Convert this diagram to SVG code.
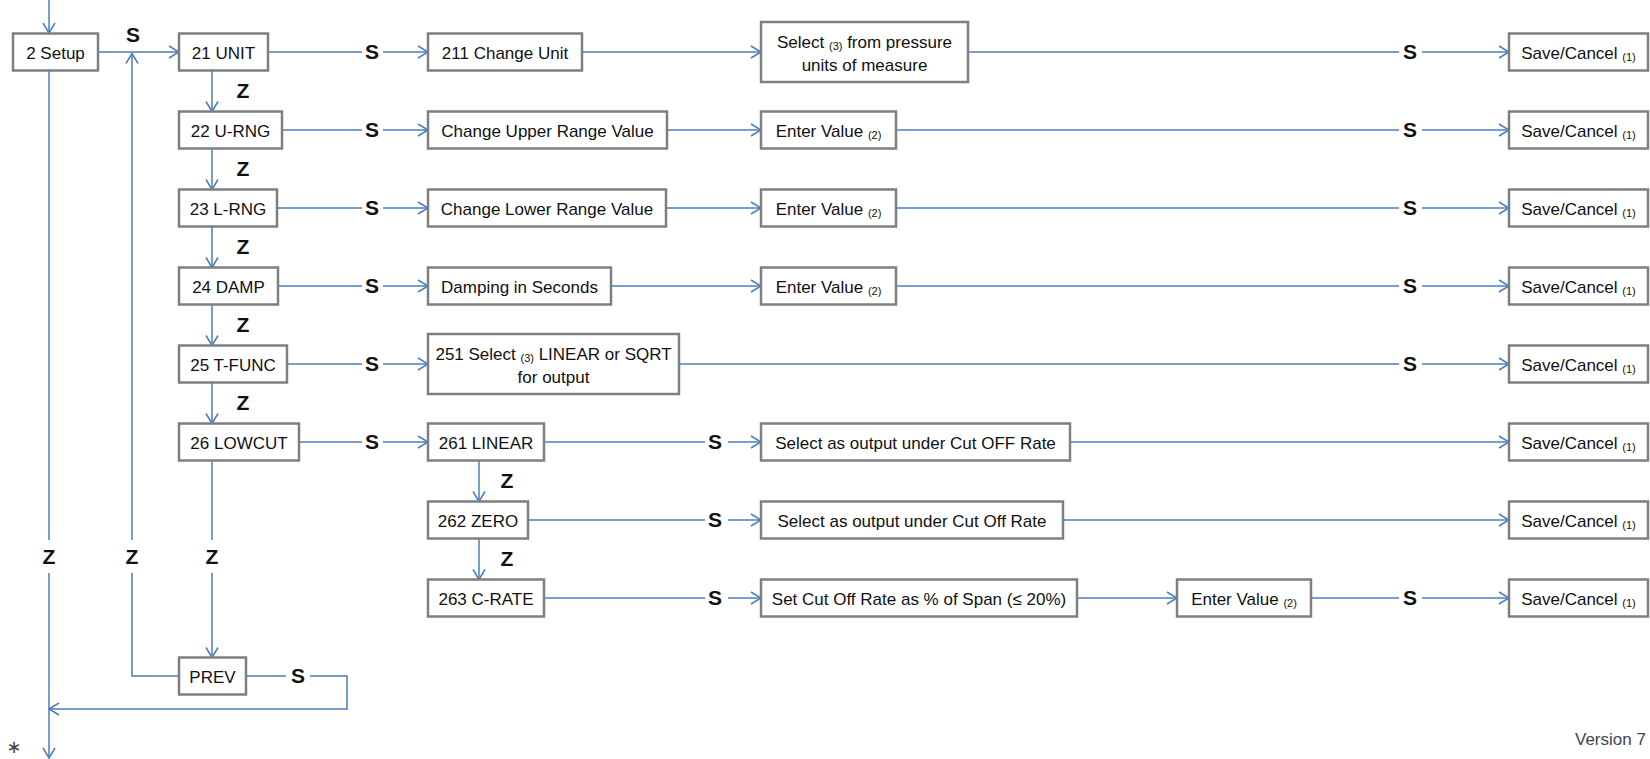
<svg xmlns="http://www.w3.org/2000/svg" width="1650" height="759" viewBox="0 0 1650 759">
<style>
.box{fill:#fff;stroke:#7f7f7f;stroke-width:2.5}
.t{font-family:"Liberation Sans",Arial,sans-serif;font-size:17px;fill:#111;text-anchor:middle}
.sub{font-size:11px}
.lbl{font-family:"Liberation Sans",Arial,sans-serif;font-weight:bold;font-size:21px;fill:#111;text-anchor:middle}
.c{fill:none;stroke:#4a7ebb;stroke-width:1.5}
.ver{font-family:"Liberation Sans",Arial,sans-serif;font-size:17px;fill:#444}
.ast{font-family:"DejaVu Sans",sans-serif;font-size:18px;fill:#444;text-anchor:middle}
</style>
<defs>
<marker id="a" viewBox="-11 -7 12 14" refX="0" refY="0" markerWidth="12" markerHeight="14" markerUnits="userSpaceOnUse" orient="auto">
<path d="M-10,-6 L0,0 L-10,6" fill="none" stroke="#4a7ebb" stroke-width="1.5"/>
</marker>
</defs>
<rect width="1650" height="759" fill="#fff"/>
<g id="connectors">
<path class="c" d="M49,0 V33" marker-end="url(#a)"/>
<path class="c" d="M98,52 H179" marker-end="url(#a)"/>
<path class="c" d="M268,52 H362"/><path class="c" d="M383,52 H428" marker-end="url(#a)"/>
<path class="c" d="M582,52 H761" marker-end="url(#a)"/>
<path class="c" d="M968,52 H1399"/><path class="c" d="M1422,52 H1509" marker-end="url(#a)"/>
<path class="c" d="M282,130 H362"/><path class="c" d="M383,130 H428" marker-end="url(#a)"/>
<path class="c" d="M667,130 H761" marker-end="url(#a)"/>
<path class="c" d="M896,130 H1399"/><path class="c" d="M1422,130 H1509" marker-end="url(#a)"/>
<path class="c" d="M277,208 H362"/><path class="c" d="M383,208 H428" marker-end="url(#a)"/>
<path class="c" d="M666,208 H761" marker-end="url(#a)"/>
<path class="c" d="M896,208 H1399"/><path class="c" d="M1422,208 H1509" marker-end="url(#a)"/>
<path class="c" d="M278,286 H362"/><path class="c" d="M383,286 H428" marker-end="url(#a)"/>
<path class="c" d="M611,286 H761" marker-end="url(#a)"/>
<path class="c" d="M896,286 H1399"/><path class="c" d="M1422,286 H1509" marker-end="url(#a)"/>
<path class="c" d="M287,364 H362"/><path class="c" d="M383,364 H428" marker-end="url(#a)"/>
<path class="c" d="M679,364 H1399"/><path class="c" d="M1422,364 H1509" marker-end="url(#a)"/>
<path class="c" d="M299,442 H362"/><path class="c" d="M383,442 H428" marker-end="url(#a)"/>
<path class="c" d="M544,442 H705"/><path class="c" d="M728,442 H761" marker-end="url(#a)"/>
<path class="c" d="M1070,442 H1509" marker-end="url(#a)"/>
<path class="c" d="M528,520 H705"/><path class="c" d="M728,520 H761" marker-end="url(#a)"/>
<path class="c" d="M1063,520 H1509" marker-end="url(#a)"/>
<path class="c" d="M544,598 H705"/><path class="c" d="M728,598 H761" marker-end="url(#a)"/>
<path class="c" d="M1077,598 H1177" marker-end="url(#a)"/>
<path class="c" d="M1311,598 H1399"/><path class="c" d="M1422,598 H1509" marker-end="url(#a)"/>
<path class="c" d="M212,70.5 V111.5" marker-end="url(#a)"/>
<path class="c" d="M212,148.5 V189.5" marker-end="url(#a)"/>
<path class="c" d="M212,226.5 V267.5" marker-end="url(#a)"/>
<path class="c" d="M212,304.5 V345.5" marker-end="url(#a)"/>
<path class="c" d="M212,382.5 V423.5" marker-end="url(#a)"/>
<path class="c" d="M479,460.5 V501.5" marker-end="url(#a)"/>
<path class="c" d="M479,538.5 V579.5" marker-end="url(#a)"/>
<path class="c" d="M212,460.5 V540"/><path class="c" d="M212,573 V657.5" marker-end="url(#a)"/>
<path class="c" d="M49,70.5 V540"/><path class="c" d="M49,573 V758" marker-end="url(#a)"/>
<path class="c" d="M179,676 H132 V573"/><path class="c" d="M132,540 V53.5" marker-end="url(#a)"/>
<path class="c" d="M246,676 H286"/><path class="c" d="M310,676 H347 V709 H49" marker-end="url(#a)"/>
</g>
<g id="labels">
<text class="lbl" x="133" y="42">S</text>
<text class="lbl" x="372" y="59">S</text>
<text class="lbl" x="372" y="137">S</text>
<text class="lbl" x="372" y="215">S</text>
<text class="lbl" x="372" y="293">S</text>
<text class="lbl" x="372" y="371">S</text>
<text class="lbl" x="372" y="449">S</text>
<text class="lbl" x="715" y="449">S</text>
<text class="lbl" x="715" y="527">S</text>
<text class="lbl" x="715" y="605">S</text>
<text class="lbl" x="1410" y="59">S</text>
<text class="lbl" x="1410" y="137">S</text>
<text class="lbl" x="1410" y="215">S</text>
<text class="lbl" x="1410" y="293">S</text>
<text class="lbl" x="1410" y="371">S</text>
<text class="lbl" x="1410" y="605">S</text>
<text class="lbl" x="298" y="683">S</text>
<text class="lbl" x="243" y="98">Z</text>
<text class="lbl" x="243" y="176">Z</text>
<text class="lbl" x="243" y="254">Z</text>
<text class="lbl" x="243" y="332">Z</text>
<text class="lbl" x="243" y="410">Z</text>
<text class="lbl" x="507" y="488">Z</text>
<text class="lbl" x="507" y="566">Z</text>
<text class="lbl" x="49" y="564">Z</text>
<text class="lbl" x="132" y="564">Z</text>
<text class="lbl" x="212" y="564">Z</text>
</g>
<g id="n2"><rect class="box" x="13" y="33.5" width="85" height="37"/><text class="t" x="55.5" y="59">2 Setup</text></g>
<g id="n21"><rect class="box" x="179" y="33.5" width="89" height="37"/><text class="t" x="223.5" y="59">21 UNIT</text></g>
<g id="n211"><rect class="box" x="428" y="33.5" width="154" height="37"/><text class="t" x="505" y="59">211  Change Unit</text></g>
<g id="n211sel"><rect class="box" x="761" y="22" width="207" height="60"/><text class="t" x="864.5" y="48">Select <tspan class="sub" dy="2">(3)</tspan><tspan dy="-2"> from pressure</tspan></text><text class="t" x="864.5" y="70.5">units of measure</text></g>
<g id="save1"><rect class="box" x="1509" y="33.5" width="139" height="37"/><text class="t" x="1578.5" y="59">Save/Cancel <tspan class="sub" dy="2">(1)</tspan></text></g>
<g id="n22"><rect class="box" x="179" y="111.5" width="103" height="37"/><text class="t" x="230.5" y="137">22 U-RNG</text></g>
<g id="n221"><rect class="box" x="428" y="111.5" width="239" height="37"/><text class="t" x="547.5" y="137">Change Upper Range Value</text></g>
<g id="ev2"><rect class="box" x="761" y="111.5" width="135" height="37"/><text class="t" x="828.5" y="137">Enter Value <tspan class="sub" dy="2">(2)</tspan></text></g>
<g id="save2"><rect class="box" x="1509" y="111.5" width="139" height="37"/><text class="t" x="1578.5" y="137">Save/Cancel <tspan class="sub" dy="2">(1)</tspan></text></g>
<g id="n23"><rect class="box" x="179" y="189.5" width="98" height="37"/><text class="t" x="228" y="215">23 L-RNG</text></g>
<g id="n231"><rect class="box" x="428" y="189.5" width="238" height="37"/><text class="t" x="547" y="215">Change Lower Range Value</text></g>
<g id="ev3"><rect class="box" x="761" y="189.5" width="135" height="37"/><text class="t" x="828.5" y="215">Enter Value <tspan class="sub" dy="2">(2)</tspan></text></g>
<g id="save3"><rect class="box" x="1509" y="189.5" width="139" height="37"/><text class="t" x="1578.5" y="215">Save/Cancel <tspan class="sub" dy="2">(1)</tspan></text></g>
<g id="n24"><rect class="box" x="179" y="267.5" width="99" height="37"/><text class="t" x="228.5" y="293">24 DAMP</text></g>
<g id="n241"><rect class="box" x="428" y="267.5" width="183" height="37"/><text class="t" x="519.5" y="293">Damping in Seconds</text></g>
<g id="ev4"><rect class="box" x="761" y="267.5" width="135" height="37"/><text class="t" x="828.5" y="293">Enter Value <tspan class="sub" dy="2">(2)</tspan></text></g>
<g id="save4"><rect class="box" x="1509" y="267.5" width="139" height="37"/><text class="t" x="1578.5" y="293">Save/Cancel <tspan class="sub" dy="2">(1)</tspan></text></g>
<g id="n25"><rect class="box" x="179" y="345.5" width="108" height="37"/><text class="t" x="233" y="371">25 T-FUNC</text></g>
<g id="n251"><rect class="box" x="428" y="334" width="251" height="60"/><text class="t" x="553.5" y="360">251 Select <tspan class="sub" dy="2">(3)</tspan><tspan dy="-2"> LINEAR or SQRT</tspan></text><text class="t" x="553.5" y="382.5">for output</text></g>
<g id="save5"><rect class="box" x="1509" y="345.5" width="139" height="37"/><text class="t" x="1578.5" y="371">Save/Cancel <tspan class="sub" dy="2">(1)</tspan></text></g>
<g id="n26"><rect class="box" x="179" y="423.5" width="120" height="37"/><text class="t" x="239" y="449">26 LOWCUT</text></g>
<g id="n261"><rect class="box" x="428" y="423.5" width="116" height="37"/><text class="t" x="486" y="449">261  LINEAR</text></g>
<g id="sel261"><rect class="box" x="761" y="423.5" width="309" height="37"/><text class="t" x="915.5" y="449">Select as output under Cut OFF Rate</text></g>
<g id="save6"><rect class="box" x="1509" y="423.5" width="139" height="37"/><text class="t" x="1578.5" y="449">Save/Cancel <tspan class="sub" dy="2">(1)</tspan></text></g>
<g id="n262"><rect class="box" x="428" y="501.5" width="100" height="37"/><text class="t" x="478" y="527">262  ZERO</text></g>
<g id="sel262"><rect class="box" x="761" y="501.5" width="302" height="37"/><text class="t" x="912" y="527">Select as output under Cut Off Rate</text></g>
<g id="save7"><rect class="box" x="1509" y="501.5" width="139" height="37"/><text class="t" x="1578.5" y="527">Save/Cancel <tspan class="sub" dy="2">(1)</tspan></text></g>
<g id="n263"><rect class="box" x="428" y="579.5" width="116" height="37"/><text class="t" x="486" y="605">263  C-RATE</text></g>
<g id="setcut"><rect class="box" x="761" y="579.5" width="316" height="37"/><text class="t" x="919" y="605">Set Cut Off Rate as % of Span (≤ 20%)</text></g>
<g id="ev8"><rect class="box" x="1177" y="579.5" width="134" height="37"/><text class="t" x="1244" y="605">Enter Value <tspan class="sub" dy="2">(2)</tspan></text></g>
<g id="save8"><rect class="box" x="1509" y="579.5" width="139" height="37"/><text class="t" x="1578.5" y="605">Save/Cancel <tspan class="sub" dy="2">(1)</tspan></text></g>
<g id="prev"><rect class="box" x="179" y="657.5" width="67" height="37"/><text class="t" x="212.5" y="683">PREV</text></g>
<text class="ast" x="14" y="753">∗</text>
<text class="ver" x="1575" y="745">Version 7</text>
</svg>
